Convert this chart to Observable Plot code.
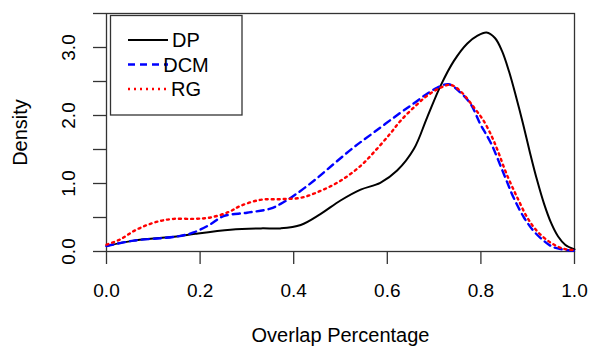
<!DOCTYPE html>
<html>
<head>
<meta charset="utf-8">
<script src="https://cdn.jsdelivr.net/npm/d3@7"></script>
<script src="https://cdn.jsdelivr.net/npm/@observablehq/plot@0.6"></script>
<style>
  html, body { margin: 0; padding: 0; background: #fff; }
  #chart { width: 590px; height: 347px; overflow: hidden; }
  svg { font-family: "Liberation Sans", Arial, Helvetica, sans-serif; }
</style>
</head>
<body>
<div id="chart"></div>
<script>
// ---- data ----
const seriesNames = ["DP", "DCM", "RG"];
const seriesColors = ["#000000", "#0000ff", "#ff0000"];
const seriesDash = [null, "7,5", "2,4"];

const dpX = [0, 0.058, 0.15, 0.19, 0.265, 0.33, 0.372, 0.415, 0.457, 0.5, 0.543, 0.585, 0.621, 0.657, 0.685, 0.714, 0.742, 0.771, 0.792, 0.812, 0.83, 0.845, 0.86, 0.875, 0.89, 0.905, 0.92, 0.935, 0.95, 0.965, 0.98, 1.0];
const dpY = [0.08, 0.16, 0.22, 0.26, 0.32, 0.34, 0.34, 0.39, 0.55, 0.75, 0.91, 1.01, 1.19, 1.51, 1.97, 2.44, 2.80, 3.06, 3.17, 3.22, 3.14, 2.95, 2.65, 2.28, 1.88, 1.45, 1.05, 0.70, 0.42, 0.22, 0.10, 0.03];

const dcmX = [0, 0.058, 0.15, 0.186, 0.222, 0.25, 0.30, 0.35, 0.372, 0.40, 0.443, 0.486, 0.528, 0.571, 0.628, 0.657, 0.685, 0.707, 0.731, 0.756, 0.778, 0.799, 0.821, 0.849, 0.87, 0.892, 0.913, 0.934, 0.956, 1.0];
const dcmY = [0.08, 0.16, 0.22, 0.28, 0.40, 0.52, 0.57, 0.63, 0.70, 0.82, 1.04, 1.29, 1.53, 1.75, 2.04, 2.18, 2.32, 2.41, 2.46, 2.34, 2.17, 1.87, 1.60, 1.14, 0.79, 0.50, 0.30, 0.16, 0.06, 0.01];

const rgX = [0, 0.03, 0.058, 0.087, 0.115, 0.144, 0.187, 0.222, 0.261, 0.286, 0.329, 0.372, 0.415, 0.457, 0.5, 0.543, 0.578, 0.607, 0.628, 0.657, 0.685, 0.714, 0.735, 0.756, 0.785, 0.806, 0.824, 0.835, 0.856, 0.878, 0.899, 0.92, 0.949, 0.977, 1.0];
const rgY = [0.10, 0.18, 0.30, 0.39, 0.45, 0.48, 0.48, 0.50, 0.58, 0.67, 0.76, 0.77, 0.79, 0.89, 1.04, 1.26, 1.51, 1.74, 1.92, 2.12, 2.29, 2.41, 2.45, 2.36, 2.12, 1.92, 1.68, 1.50, 1.12, 0.79, 0.50, 0.30, 0.13, 0.04, 0.02];

const xTicks = [0, 0.2, 0.4, 0.6, 0.8, 1.0];
const yTicks = [0, 0.5, 1.0, 1.5, 2.0, 2.5, 3.0, 3.5];
const yLabels = [0, 1, 2, 3];
const xTitle = "Overlap Percentage";
const yTitle = "Density";

// ---- build tables ----
const xs = [dpX, dcmX, rgX];
const ys = [dpY, dcmY, rgY];
const tables = seriesNames.map((name, i) => xs[i].map((x, j) => ({series: name, x, y: ys[i][j]})));

const frameColor = "#333";
const tickFs = 19;
const titleFs = 20;

const marks = [
  Plot.frame({stroke: frameColor, strokeWidth: 1.3}),
  Plot.axisX({ticks: xTicks, tickSize: 13, tickPadding: 19, tickFormat: d3.format(".1f"), fontSize: tickFs, label: null, stroke: frameColor, strokeWidth: 1.3, color: "#000"}),
  Plot.axisY({ticks: yTicks, tickSize: 13, tickFormat: () => "", label: null, stroke: frameColor, strokeWidth: 1.3}),
  Plot.text(yLabels, {frameAnchor: "left", y: d => d, text: d => d.toFixed(1), rotate: -90, dx: -37.5, textAnchor: "middle", lineAnchor: "middle", fontSize: tickFs, fill: "#000"}),
  Plot.text([yTitle], {frameAnchor: "left", text: d => d, rotate: -90, dx: -86, textAnchor: "middle", lineAnchor: "middle", fontSize: titleFs, fill: "#000"}),
  Plot.text([xTitle], {frameAnchor: "bottom", text: d => d, dy: 84.5, textAnchor: "middle", lineAnchor: "middle", fontSize: titleFs, fill: "#000"})
];
seriesNames.forEach((name, i) => {
  marks.push(Plot.line(tables[i], {x: "x", y: "y", stroke: seriesColors[i], strokeWidth: i === 0 ? 2 : 2.4, strokeDasharray: seriesDash[i] || undefined, curve: "catmull-rom"}));
});

const chart = Plot.plot({
  width: 590,
  height: 347,
  marginLeft: 106,
  marginRight: 16,
  marginTop: 13,
  marginBottom: 96,
  x: {domain: [0, 1]},
  y: {domain: [0, 3.5]},
  style: {fontFamily: '"Liberation Sans", Arial, Helvetica, sans-serif', background: "#fff", overflow: "visible"},
  marks
});
document.getElementById("chart").appendChild(chart);

// ---- legend (R-style box in the top-left corner) ----
const svg = d3.select(chart);
const lg = svg.append("g").attr("class", "legend");
lg.append("rect").attr("x", 110.5).attr("y", 15.5).attr("width", 131.5).attr("height", 99.5)
  .attr("fill", "#fff").attr("stroke", frameColor).attr("stroke-width", 1.3);
const rowY = [40, 64.5, 89];
seriesNames.forEach((name, i) => {
  lg.append("line").attr("x1", 128).attr("x2", 168).attr("y1", rowY[i]).attr("y2", rowY[i])
    .attr("stroke", seriesColors[i]).attr("stroke-width", i === 0 ? 2 : 2.4)
    .attr("stroke-dasharray", seriesDash[i]);
  lg.append("text").attr("x", 186).attr("y", rowY[i]).attr("dy", "0.36em")
    .attr("font-size", titleFs).attr("fill", "#000").text(name);
});
</script>
</body>
</html>
